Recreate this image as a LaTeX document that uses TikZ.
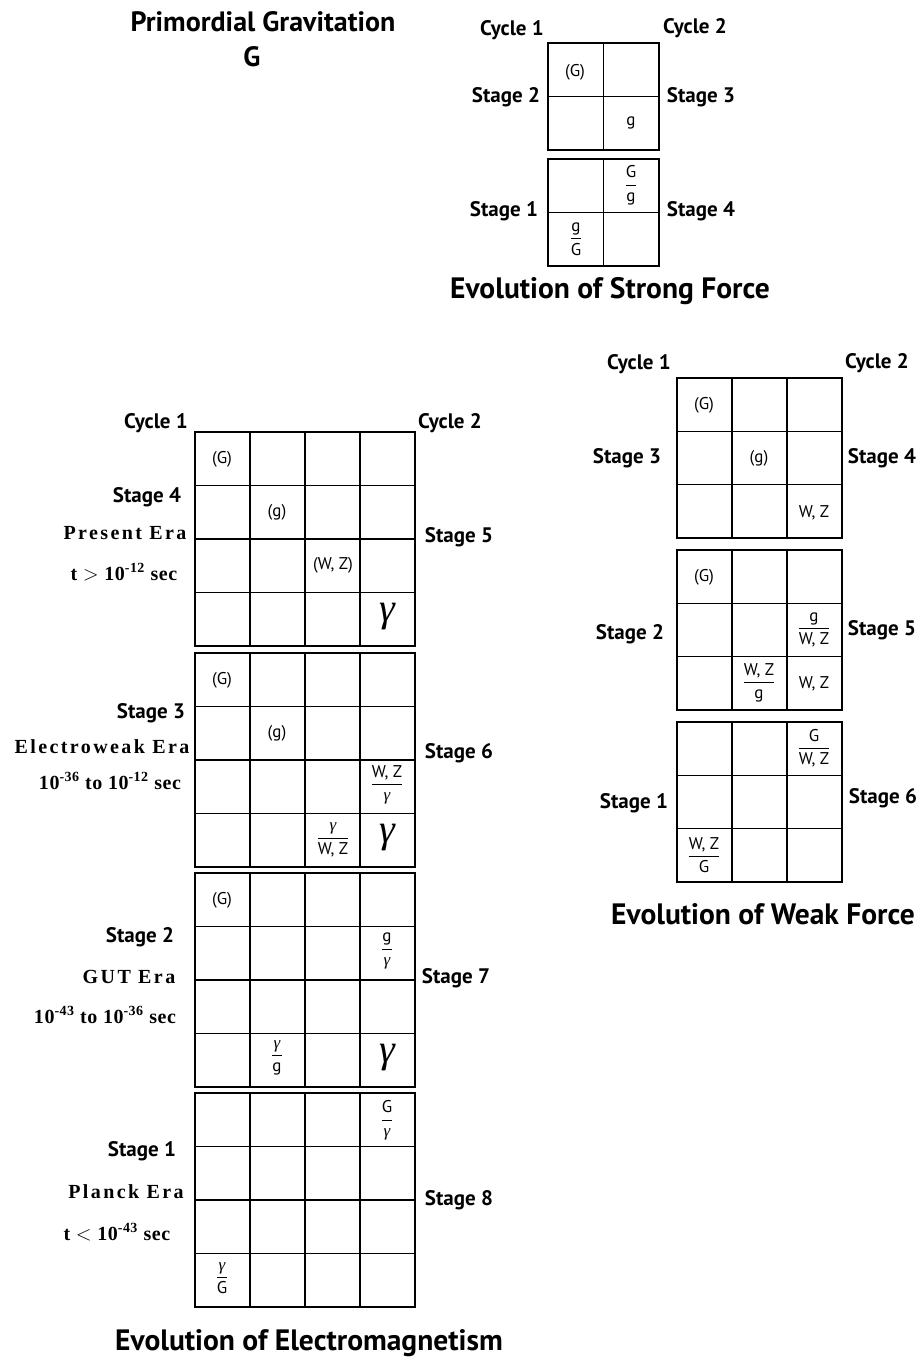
\documentclass[tikz,border=0pt]{standalone}
\usepackage{amsmath}
\usepackage{fontspec}
\setmainfont{Liberation Serif}
\setsansfont{PT Sans}
\setmonofont{DejaVu Sans Mono}
\newfontfamily\erafont[LetterSpace=12]{Liberation Serif}
\newfontfamily\timefont[LetterSpace=3]{Liberation Serif}
\usetikzlibrary{positioning,calc}

\tikzset{
  cellgrid/.style={line width=1.6pt},
  lbl/.style={font=\sffamily\bfseries\fontsize{21}{23}\selectfont,inner sep=0pt},
  era/.style={font=\erafont\bfseries\fontsize{20}{22}\selectfont,inner sep=0pt},
  eratime/.style={font=\timefont\bfseries\fontsize{20}{22}\selectfont,inner sep=0pt},
  ttl/.style={font=\sffamily\bfseries\fontsize{29.5}{32}\selectfont,inner sep=0pt},
  part/.style={font=\sffamily\fontsize{17}{18}\selectfont,inner sep=0pt},
  photon/.style={font=\rmfamily\itshape\fontsize{40}{42}\selectfont,inner sep=0pt}
}
% x0, y0, columns, rows, cell width, cell height
\newcommand{\cellblock}[6]{%
  \foreach \r in {1,...,#4}{\foreach \c in {1,...,#3}{%
    \draw[cellgrid] ({#1+(\c-1)*#5},{#2+(\r-1)*#6}) rectangle ++(#5,#6);}}}
\newcommand{\frc}[2]{$\dfrac{\text{#1}}{\text{#2}}$}
\newcommand{\gm}{{\rmfamily\itshape γ}}

\begin{document}
\begin{tikzpicture}[x=1pt,y=-1pt]
    \useasboundingbox (0,0) rectangle (921,1358);
    % primordial gravitation
    \node[ttl,font=\sffamily\bfseries\fontsize{28}{30}\selectfont] (prim) at (263,22) {Primordial Gravitation};
    \node[ttl,font=\sffamily\bfseries\fontsize{28}{30}\selectfont] (primG) at (252,57) {G};

    % strong force
    \cellblock{548}{43}{2}{2}{55.5}{53.5}
    \cellblock{548}{159}{2}{2}{55.5}{53.5}
    \node[lbl] (sc1) at (512,30) {Cycle 1};
    \node[lbl] (sc2) at (695,28) {Cycle 2};
    \node[lbl] (ss2) at (506,97) {Stage 2};
    \node[lbl] (ss3) at (701,97) {Stage 3};
    \node[lbl] (ss1) at (504,211) {Stage 1};
    \node[lbl] (ss4) at (701,211) {Stage 4};
    \node[part] (sG) at (575,72) {(G)};
    \node[part] (sg) at (631,123) {g};
    \node[part] (sGg) at (631,185) {\frc{G}{g}};
    \node[part] (sgG) at (576,239) {\frc{g}{G}};
    \node[ttl] (stitle) at (610,291) {Evolution of Strong Force};

    % electromagnetism
    \cellblock{195}{432}{4}{4}{55}{53.5}
    \cellblock{195}{653}{4}{4}{55}{53.5}
    \cellblock{195}{873}{4}{4}{55}{53.5}
    \cellblock{195}{1093}{4}{4}{55}{53.5}
    \node[lbl] (ec1) at (156,423) {Cycle 1};
    \node[lbl] (ec2) at (450,423) {Cycle 2};
    \node[lbl] (es4) at (147,497) {Stage 4};
    \node[era] (eraA) at (125,533) {Present Era};
    \node[eratime] (timeA) at (124,572) {t $>$ 10\textsuperscript{-12} sec};
    \node[lbl] (es5) at (459,537) {Stage 5};
    \node[lbl] (es3) at (151,713) {Stage 3};
    \node[era] (eraB) at (102,747) {Electroweak Era};
    \node[eratime] (timeB) at (110,781) {10\textsuperscript{-36} to 10\textsuperscript{-12} sec};
    \node[lbl] (es6) at (459,753) {Stage 6};
    \node[lbl] (es2) at (140,937) {Stage 2};
    \node[era] (eraC) at (129,977) {GUT Era};
    \node[eratime] (timeC) at (105,1015) {10\textsuperscript{-43} to 10\textsuperscript{-36} sec};
    \node[lbl] (es7) at (456,978) {Stage 7};
    \node[lbl] (es1) at (142,1151) {Stage 1};
    \node[era] (eraD) at (126,1192) {Planck Era};
    \node[eratime] (timeD) at (117,1232) {t $<$ 10\textsuperscript{-43} sec};
    \node[lbl] (es8) at (459,1200) {Stage 8};
    % block 1
    \node[part] (eaG) at (222,459) {(G)};
    \node[part] (eag) at (277,512) {(g)};
    \node[part] (eaWZ) at (333,565) {(W, Z)};
    \node[photon] (eaP) at (387,617) {γ};
    % block 2
    \node[part] (ebG) at (222,680) {(G)};
    \node[part] (ebg) at (277,733) {(g)};
    \node[part] (ebWZ) at (387,785) {\frc{W, Z}{\gm}};
    \node[part] (ebP) at (333,840) {\frc{\gm}{W, Z}};
    \node[photon] (ebPP) at (387,838) {γ};
    % block 3
    \node[part] (ecG) at (222,900) {(G)};
    \node[part] (ecg) at (387,951) {\frc{g}{\gm}};
    \node[part] (ecP) at (277,1058) {\frc{\gm}{g}};
    \node[photon] (ecPP) at (387,1058) {γ};
    % block 4
    \node[part] (edG) at (387,1120) {\frc{G}{\gm}};
    \node[part] (edP) at (222,1278) {\frc{\gm}{G}};
    \node[ttl] (etitle) at (309,1343) {Evolution of Electromagnetism};

    % weak force
    \cellblock{677}{378}{3}{3}{55}{53.3}
    \cellblock{677}{550}{3}{3}{55}{53.3}
    \cellblock{677}{722}{3}{3}{55}{53.3}
    \node[lbl] (wc1) at (639,364) {Cycle 1};
    \node[lbl] (wc2) at (877,363) {Cycle 2};
    \node[lbl] (ws3) at (627,458) {Stage 3};
    \node[lbl] (ws4) at (882,458) {Stage 4};
    \node[lbl] (ws2) at (630,634) {Stage 2};
    \node[lbl] (ws5) at (882,630) {Stage 5};
    \node[lbl] (ws1) at (634,803) {Stage 1};
    \node[lbl] (ws6) at (883,798) {Stage 6};
    \node[part] (waG) at (704,405) {(G)};
    \node[part] (wag) at (759,458) {(g)};
    \node[part] (waWZ) at (814,513) {W, Z};
    \node[part] (wbG) at (704,577) {(G)};
    \node[part] (wbg) at (814,630) {\frc{g}{W, Z}};
    \node[part] (wbWZ) at (759,683) {\frc{W, Z}{g}};
    \node[part] (wbW) at (814,684) {W, Z};
    \node[part] (wcG) at (814,748) {\frc{G}{W, Z}};
    \node[part] (wcW) at (704,855) {\frc{W, Z}{G}};
    \node[ttl] (wtitle) at (763,914) {Evolution of Weak Force};
  \end{tikzpicture}
\end{document}
